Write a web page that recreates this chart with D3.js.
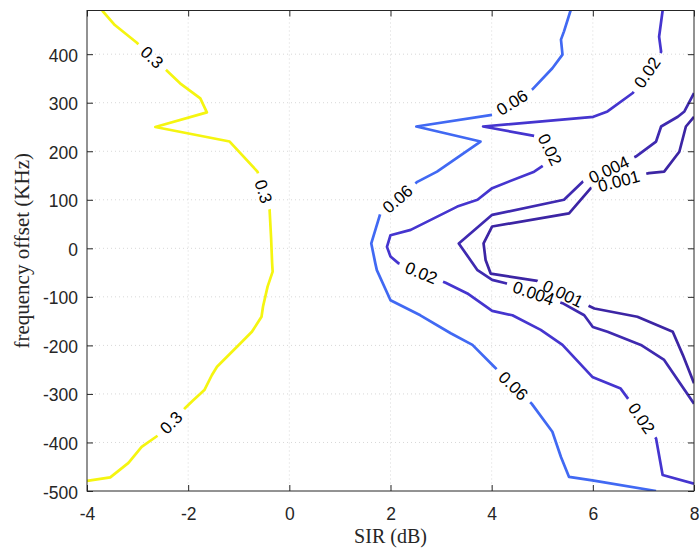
<!DOCTYPE html>
<html>
<head>
<meta charset="utf-8">
<script src="https://cdn.jsdelivr.net/npm/d3@7"></script>
<style>
  body { margin: 0; background: #fff; }
  svg { display: block; }
</style>
</head>
<body>
<script>
// axis ticks
var xTicks = [-4, -2, 0, 2, 4, 6, 8];
var yTicks = [-500, -400, -300, -200, -100, 0, 100, 200, 300, 400];

// contour levels and their colours (parula)
var levels = [0.3, 0.06, 0.02, 0.004, 0.001];
var levelColors = ["#f5f510", "#4169f3", "#4535cf", "#3f2ab0", "#3c25a4"];

// contour lines, [SIR (dB), frequency offset (KHz)]
var line030 = [[-3.70,490],[-3.45,460],[-3.02,424],[-2.42,366],[-2.16,340],[-1.76,309],[-1.63,280],[-2.65,250],
  [-1.18,220],[-0.63,158],[-0.39,79],[-0.36,20],[-0.34,-31],[-0.33,-48],[-0.43,-79],[-0.52,-120],[-0.55,-141],
  [-0.74,-172],[-0.97,-196],[-1.43,-244],[-1.53,-261],[-1.68,-292],[-1.90,-313],[-2.06,-329],[-2.59,-385],
  [-2.92,-409],[-3.18,-442],[-3.54,-472],[-4.0,-479]];
var line006 = [[5.56,490],[5.43,447],[5.37,430],[5.40,399],[5.20,371],[4.81,328],[4.01,275],[2.51,251],[3.78,220],
  [2.92,158],[2.53,137],[1.80,72],[1.62,10],[1.70,-31],[1.73,-45],[2.0,-107],[2.59,-138],[3.19,-175],[3.62,-199],
  [4.05,-244],[4.79,-320],[5.20,-378],[5.37,-430],[5.53,-471],[5.99,-478],[7.25,-500]];
var line002a = [[7.38,490],[7.31,436],[7.35,405],[6.79,320],[6.29,282],[6.01,271],[3.83,251],[5.04,228],[5.24,186],
  [4.84,158],[4.01,124],[3.72,100],[3.32,86],[2.40,38],[2.0,27],[1.93,3],[2.0,-17],[2.16,-31],[3.09,-71],[3.52,-93],
  [4.01,-129],[4.41,-138],[4.97,-168],[5.40,-199],[5.99,-265],[6.55,-289],[6.67,-306],[7.25,-392],[7.38,-467],[8.0,-485]];
var line0004 = [[8.0,320],[7.81,282],[7.68,271],[7.35,251],[7.25,220],[6.85,189],[5.80,137],[5.43,100],[4.01,69],
  [3.35,10],[3.72,-45],[4.01,-65],[4.28,-72],[5.40,-113],[5.83,-138],[6.0,-162],[6.29,-172],[6.95,-199],[7.41,-230],[8.0,-320]];
var line0001 = [[8.0,271],[7.84,251],[7.71,199],[7.41,158],[7.11,155],[5.96,124],[5.53,72],[4.01,45],[3.84,10],
  [3.88,-24],[3.98,-52],[4.90,-67],[6.03,-124],[6.88,-141],[7.58,-172],[7.78,-220],[8.0,-278]];
var contourLines = [line030, line006, line002a, line0004, line0001];

// inline labels: level index, position
var labelLevel = [0, 0, 0, 1, 1, 1, 2, 2, 2, 2, 3, 3, 4, 4];
var labelPos = [[-2.73,392],[-0.52,117],[-2.36,-357],[4.46,291],[2.13,103],[4.41,-285],
  [7.15,357],[5.30,211],[2.59,-55],[6.95,-351],[6.29,168],[4.84,-89],[6.52,137],[5.43,-89]];

var width = 700, height = 551;
var margins = { left: 87, right: 6, top: 10.5, bottom: 60 };

var x = d3.scaleLinear().domain([-4, 8]).range([margins.left, width - margins.right]);
var y = d3.scaleLinear().domain([-500, 490]).range([height - margins.bottom, margins.top]);

var svg = d3.select("body").append("svg")
  .attr("width", width)
  .attr("height", height)
  .style("font-family", "'Liberation Sans', Arial, sans-serif");

svg.append("defs").append("clipPath").attr("id", "plotclip")
  .append("rect")
  .attr("x", x(-4)).attr("y", y(490))
  .attr("width", x(8) - x(-4)).attr("height", y(-500) - y(490));

// grid
var grid = svg.append("g").attr("stroke", "#d8d8d8").attr("stroke-width", 1).attr("stroke-dasharray", "1,3");
grid.selectAll(".gx").data(xTicks.slice(1, -1)).enter().append("line")
  .attr("x1", d => x(d)).attr("x2", d => x(d))
  .attr("y1", y(490)).attr("y2", y(-500));
grid.selectAll(".gy").data(yTicks.slice(1)).enter().append("line")
  .attr("x1", x(-4)).attr("x2", x(8))
  .attr("y1", d => y(d)).attr("y2", d => y(d));

// contours
var plot = svg.append("g").attr("clip-path", "url(#plotclip)");
var labelLayer = svg.append("g");

function cumLengths(pts) {
  var c = [0];
  for (var i = 1; i < pts.length; i++) {
    c.push(c[i - 1] + Math.hypot(pts[i][0] - pts[i - 1][0], pts[i][1] - pts[i - 1][1]));
  }
  return c;
}

function pointAt(pts, cum, s) {
  for (var i = 1; i < pts.length; i++) {
    if (s <= cum[i] || i === pts.length - 1) {
      var seg = cum[i] - cum[i - 1];
      var t = seg > 0 ? (s - cum[i - 1]) / seg : 0;
      t = Math.max(0, Math.min(1, t));
      return [pts[i - 1][0] + t * (pts[i][0] - pts[i - 1][0]), pts[i - 1][1] + t * (pts[i][1] - pts[i - 1][1])];
    }
  }
  return pts[pts.length - 1];
}

contourLines.forEach(function(line, li) {
  var pts = line.map(d => [x(d[0]), y(d[1])]);
  var cum = cumLengths(pts);
  var gaps = [];

  labelPos.forEach(function(p, k) {
    if (labelLevel[k] !== li) return;
    var px = x(p[0]), py = y(p[1]);
    var best = null;
    for (var i = 1; i < pts.length; i++) {
      var ax = pts[i - 1][0], ay = pts[i - 1][1], bx = pts[i][0], by = pts[i][1];
      var dx = bx - ax, dy = by - ay, len2 = dx * dx + dy * dy;
      var t = len2 > 0 ? ((px - ax) * dx + (py - ay) * dy) / len2 : 0;
      t = Math.max(0, Math.min(1, t));
      var qx = ax + t * dx, qy = ay + t * dy;
      var dist = Math.hypot(px - qx, py - qy);
      if (!best || dist < best.dist) best = { dist: dist, i: i, t: t, qx: qx, qy: qy, dx: dx, dy: dy };
    }
    var ang = Math.atan2(best.dy, best.dx) * 180 / Math.PI;
    if (ang > 90) ang -= 180;
    if (ang < -90) ang += 180;
    var txt = labelLayer.append("text")
      .attr("transform", "translate(" + best.qx + "," + best.qy + ") rotate(" + ang + ")")
      .attr("text-anchor", "middle")
      .attr("dy", "0.36em")
      .attr("font-size", "17px")
      .attr("fill", "#000")
      .text(String(levels[li]));
    var w = txt.node().getComputedTextLength();
    var s = cum[best.i - 1] + best.t * (cum[best.i] - cum[best.i - 1]);
    gaps.push([s - w / 2 - 7, s + w / 2 + 7]);
  });

  gaps.sort((a, b) => a[0] - b[0]);
  var keep = [];
  var start = 0;
  gaps.forEach(function(g) { keep.push([start, g[0]]); start = g[1]; });
  keep.push([start, cum[cum.length - 1]]);

  keep.forEach(function(k) {
    if (k[1] <= k[0]) return;
    var piece = [pointAt(pts, cum, k[0])];
    for (var i = 0; i < pts.length; i++) {
      if (cum[i] > k[0] && cum[i] < k[1]) piece.push(pts[i]);
    }
    piece.push(pointAt(pts, cum, k[1]));
    plot.append("path")
      .attr("d", d3.line()(piece))
      .attr("fill", "none")
      .attr("stroke", levelColors[li])
      .attr("stroke-width", 2.7)
      .attr("stroke-linejoin", "round");
  });
});

// axes
var axisColor = "#262626";
var plain = d => String(d);
var gx = svg.append("g").attr("transform", "translate(0," + y(-500) + ")")
  .call(d3.axisBottom(x).tickValues(xTicks).tickFormat(plain).tickSizeInner(-6).tickSizeOuter(0).tickPadding(17));
var gy = svg.append("g").attr("transform", "translate(" + x(-4) + ",0)")
  .call(d3.axisLeft(y).tickValues(yTicks).tickFormat(plain).tickSizeInner(-6).tickSizeOuter(0).tickPadding(9));
var gt = svg.append("g").attr("transform", "translate(0," + y(490) + ")")
  .call(d3.axisTop(x).tickValues(xTicks).tickSizeInner(-6).tickSizeOuter(0).tickFormat(""));
var gr = svg.append("g").attr("transform", "translate(" + x(8) + ",0)")
  .call(d3.axisRight(y).tickValues(yTicks).tickSizeInner(-6).tickSizeOuter(0).tickFormat(""));

[gx, gy, gt, gr].forEach(function(g) {
  g.select(".domain").remove();
  g.selectAll("line").attr("stroke", axisColor);
  g.selectAll("text").attr("fill", axisColor).attr("font-size", "17.5px")
    .style("font-family", "'Liberation Sans', Arial, sans-serif");
});
gy.selectAll("text").attr("dy", "0.40em");

svg.append("rect")
  .attr("x", x(-4)).attr("y", y(490))
  .attr("width", x(8) - x(-4)).attr("height", y(-500) - y(490))
  .attr("fill", "none").attr("stroke", axisColor).attr("stroke-width", 1);

// axis titles
svg.append("text")
  .attr("x", (x(-4) + x(8)) / 2).attr("y", 543)
  .attr("text-anchor", "middle")
  .attr("font-family", "'Liberation Serif', 'Times New Roman', serif")
  .attr("font-size", "20px").attr("fill", axisColor)
  .text("SIR (dB)");

svg.append("text")
  .attr("transform", "translate(29," + ((y(490) + y(-500)) / 2) + ") rotate(-90)")
  .attr("text-anchor", "middle")
  .attr("font-family", "'Liberation Serif', 'Times New Roman', serif")
  .attr("font-size", "21px").attr("fill", axisColor)
  .text("frequency offset (KHz)");
</script>
</body>
</html>
